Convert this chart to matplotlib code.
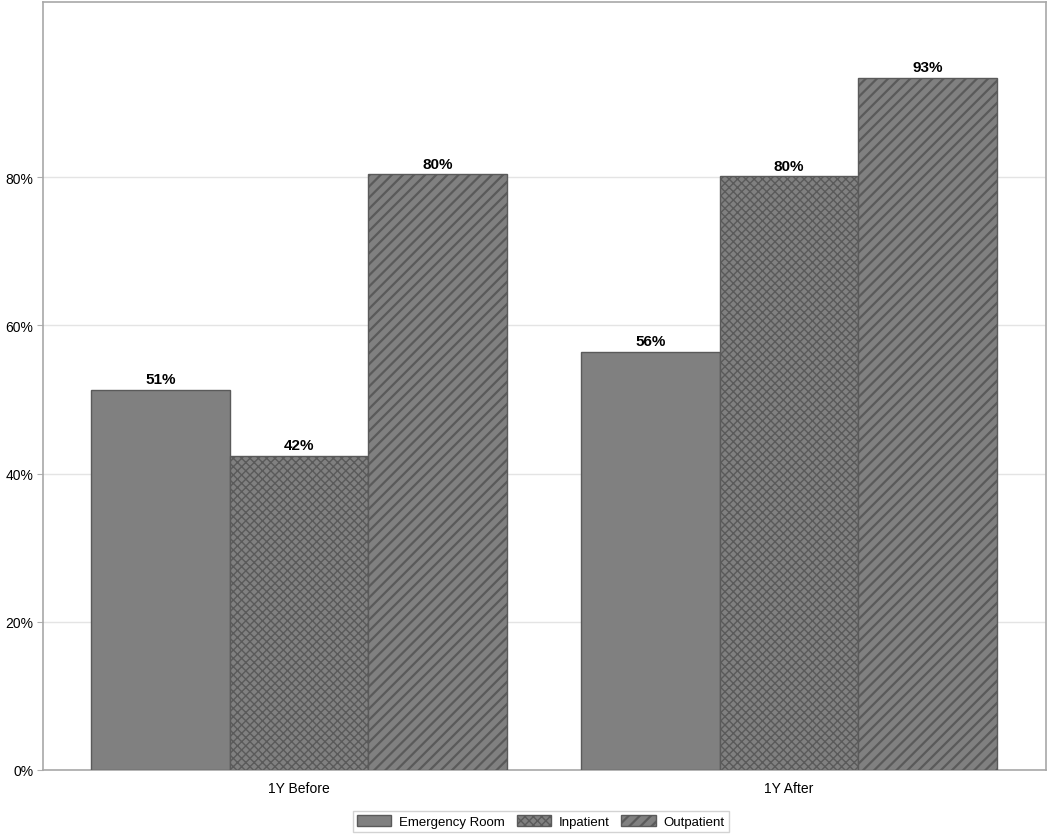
import numpy as np
import matplotlib.pyplot as plt

plt.rcParams['font.family'] = ['Liberation Sans', 'DejaVu Sans']
plt.rcParams['hatch.linewidth'] = 1.5

groups = ['1Y Before', '1Y After']
series = ['Emergency Room', 'Inpatient', 'Outpatient']
values = {
  'Emergency Room': [51.3, 56.4],
  'Inpatient': [42.4, 80.1],
  'Outpatient': [80.4, 93.4],
}
labels = {
  'Emergency Room': ['51%', '56%'],
  'Inpatient': ['42%', '80%'],
  'Outpatient': ['80%', '93%'],
}
hatches = ['', 'xxxx', '///']
hatch_lw = [1.0, 1.0, 1.6]

fig = plt.figure(figsize=(10.5, 8.37), dpi=100)
ax = fig.add_axes([0.041, 0.079, 0.955, 0.917])

x = np.arange(len(groups))
w = 0.2827
handles = []
for i, name in enumerate(series):
  pos = x + (i - 1) * w
  bars = ax.bar(pos, values[name], w, color='#808080', edgecolor='#5a5a5a',
                hatch=hatches[i], linewidth=1.0, label=name, zorder=3)
  for p in bars:
    if hasattr(p, 'set_hatch_linewidth'):
      p.set_hatch_linewidth(hatch_lw[i])
  handles.append(bars)
  for b, txt in zip(bars, labels[name]):
    ax.text(b.get_x() + b.get_width() / 2, b.get_height() + 0.5, txt,
            ha='center', va='bottom', fontsize=11, fontweight='bold')

ax.set_xlim(-0.522, 1.524)
ax.set_ylim(0, 103.6)
ax.set_xticks(x)
ax.set_xticklabels(groups, fontsize=10)
ax.set_yticks([0, 20, 40, 60, 80])
ax.set_yticklabels(['0%', '20%', '40%', '60%', '80%'], fontsize=10)
ax.tick_params(axis='x', length=0, pad=8)
ax.tick_params(axis='y', length=4, color='#b0b0b0', pad=3)
ax.yaxis.grid(True, color='#e4e4e4', linewidth=1.0, zorder=0)
ax.set_axisbelow(True)
for s in ax.spines.values():
  s.set_color('#a8a8a8')
  s.set_linewidth(1.2)

leg = fig.legend(handles=handles, labels=series, loc='center', bbox_to_anchor=(0.515, 0.017),
                 ncol=3, fontsize=9.5, frameon=True, fancybox=False, edgecolor='#c8c8c8',
                 handlelength=2.6, handleheight=0.9, columnspacing=0.9, handletextpad=0.6,
                 borderpad=0.3)
for p, lw in zip(leg.get_patches(), hatch_lw):
  if hasattr(p, 'set_hatch_linewidth'):
    p.set_hatch_linewidth(lw)

fig.savefig('out.png', dpi=100)
